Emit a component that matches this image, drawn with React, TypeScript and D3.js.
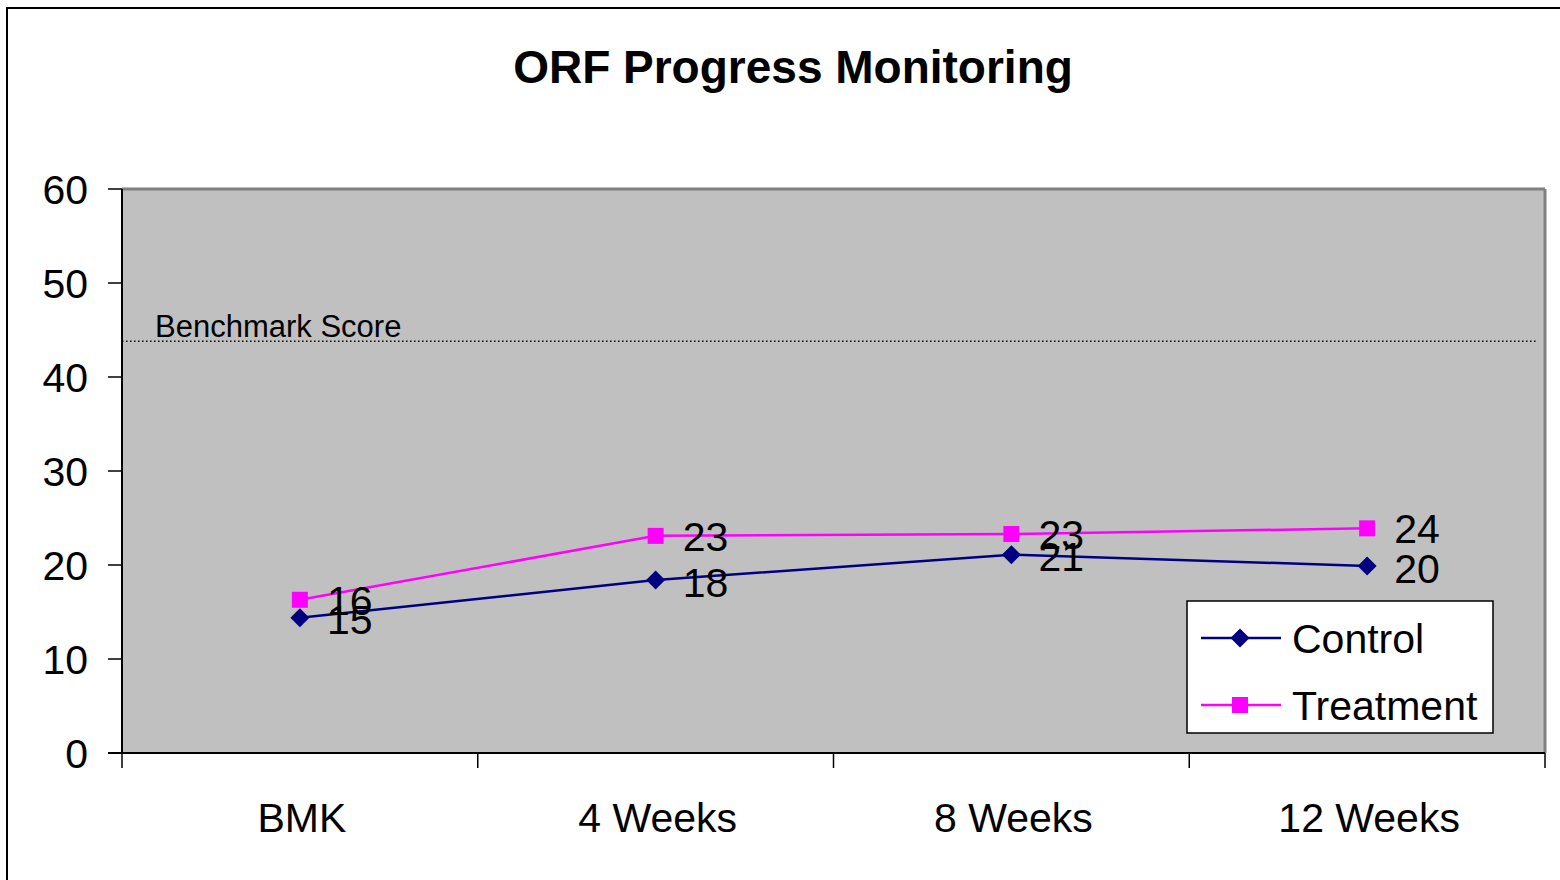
import React from "react";
import * as d3 from "d3";

const categories = ["BMK", "4 Weeks", "8 Weeks", "12 Weeks"];
const controlValues = [14.4, 18.4, 21.1, 19.9];
const treatmentValues = [16.3, 23.1, 23.3, 23.9];
const controlLabels = ["15", "18", "21", "20"];
const treatmentLabels = ["16", "23", "23", "24"];
const yTicks = [0, 10, 20, 30, 40, 50, 60];
const benchmarkValue = 43.8;
const benchmarkLabel = "Benchmark Score";
const title = "ORF Progress Monitoring";
const seriesNames = ["Control", "Treatment"];

const FONT = "'Liberation Sans', Arial, sans-serif";
const CONTROL = "#000080";
const TREAT = "#FF00FF";

export default function App() {
  const left = 122, right = 1545, top = 189, bottom = 753;
  const x = d3.scaleBand<string>().domain(categories).range([left, right]);
  const y = d3.scaleLinear().domain([0, 60]).range([bottom, top]);
  const cx = (c: string) => (x(c) as number) + x.bandwidth() / 2;

  const line = d3
    .line<number>()
    .x((_, i) => cx(categories[i]))
    .y((v) => y(v));

  const diamond = (px: number, py: number, r: number) =>
    `M${px},${py - r}L${px + r},${py}L${px},${py + r}L${px - r},${py}Z`;

  const bounds = [...categories.map((c) => x(c) as number), right];

  return (
    <svg
      width={1560}
      height={880}
      style={{ position: "absolute", left: 0, top: 0, display: "block" }}
      fontFamily={FONT}
    >
      <rect x={0} y={0} width={1560} height={880} fill="#fff" />
      <rect x={7} y={8} width={1600} height={1000} fill="#fff" stroke="#000" strokeWidth={2} />
      <text x={793} y={83} textAnchor="middle" fontSize={46} fontWeight="bold">
        {title}
      </text>
      {/* plot area */}
      <rect x={left} y={top} width={right - left} height={bottom - top} fill="#C0C0C0" />
      <line x1={left} y1={top} x2={right} y2={top} stroke="#808080" strokeWidth={3} />
      <line x1={right} y1={top} x2={right} y2={bottom} stroke="#808080" strokeWidth={3} />
      {/* axes */}
      <line x1={left} y1={top} x2={left} y2={bottom} stroke="#000" strokeWidth={2} />
      <line x1={left - 14} y1={bottom} x2={right} y2={bottom} stroke="#000" strokeWidth={2} />
      {yTicks.map((t) => (
        <g key={t}>
          <line x1={left - 14} y1={y(t)} x2={left} y2={y(t)} stroke="#000" strokeWidth={1.5} />
          <text x={88} y={y(t)} dy="0.36em" textAnchor="end" fontSize={41}>
            {t}
          </text>
        </g>
      ))}
      {bounds.map((b, i) => (
        <line key={i} x1={b} y1={bottom} x2={b} y2={bottom + 15} stroke="#000" strokeWidth={1.5} />
      ))}
      {categories.map((c) => (
        <text key={c} x={cx(c) + 2} y={832} textAnchor="middle" fontSize={41}>
          {c}
        </text>
      ))}
      {/* benchmark */}
      <line
        x1={left}
        y1={y(benchmarkValue)}
        x2={right - 8}
        y2={y(benchmarkValue)}
        stroke="#000"
        strokeWidth={1.5}
        strokeDasharray="1.5,2.5"
      />
      <text x={155} y={y(benchmarkValue) - 4} fontSize={31}>
        {benchmarkLabel}
      </text>
      {/* series */}
      <path d={line(controlValues) || ""} fill="none" stroke={CONTROL} strokeWidth={2.5} />
      <path d={line(treatmentValues) || ""} fill="none" stroke={TREAT} strokeWidth={2.5} />
      {controlValues.map((v, i) => (
        <path key={"c" + i} d={diamond(cx(categories[i]), y(v), 9.5)} fill={CONTROL} />
      ))}
      {treatmentValues.map((v, i) => (
        <rect key={"t" + i} x={cx(categories[i]) - 8} y={y(v) - 8} width={16} height={16} fill={TREAT} />
      ))}
      {treatmentValues.map((v, i) => (
        <text key={"tl" + i} x={cx(categories[i]) + 27} y={y(v)} dy="0.36em" fontSize={41}>
          {treatmentLabels[i]}
        </text>
      ))}
      {controlValues.map((v, i) => (
        <text key={"cl" + i} x={cx(categories[i]) + 27} y={y(v) + 2} dy="0.36em" fontSize={41}>
          {controlLabels[i]}
        </text>
      ))}
      {/* legend */}
      <rect x={1187} y={601} width={306} height={132} fill="#fff" stroke="#000" strokeWidth={1.5} />
      <line x1={1201} y1={638} x2={1281} y2={638} stroke={CONTROL} strokeWidth={2.5} />
      <path d={diamond(1240, 638, 9.5)} fill={CONTROL} />
      <text x={1292} y={638} dy="0.36em" fontSize={41}>
        {seriesNames[0]}
      </text>
      <line x1={1201} y1={705} x2={1281} y2={705} stroke={TREAT} strokeWidth={2.5} />
      <rect x={1232} y={697} width={16} height={16} fill={TREAT} />
      <text x={1292} y={705} dy="0.36em" fontSize={41}>
        {seriesNames[1]}
      </text>
    </svg>
  );
}
